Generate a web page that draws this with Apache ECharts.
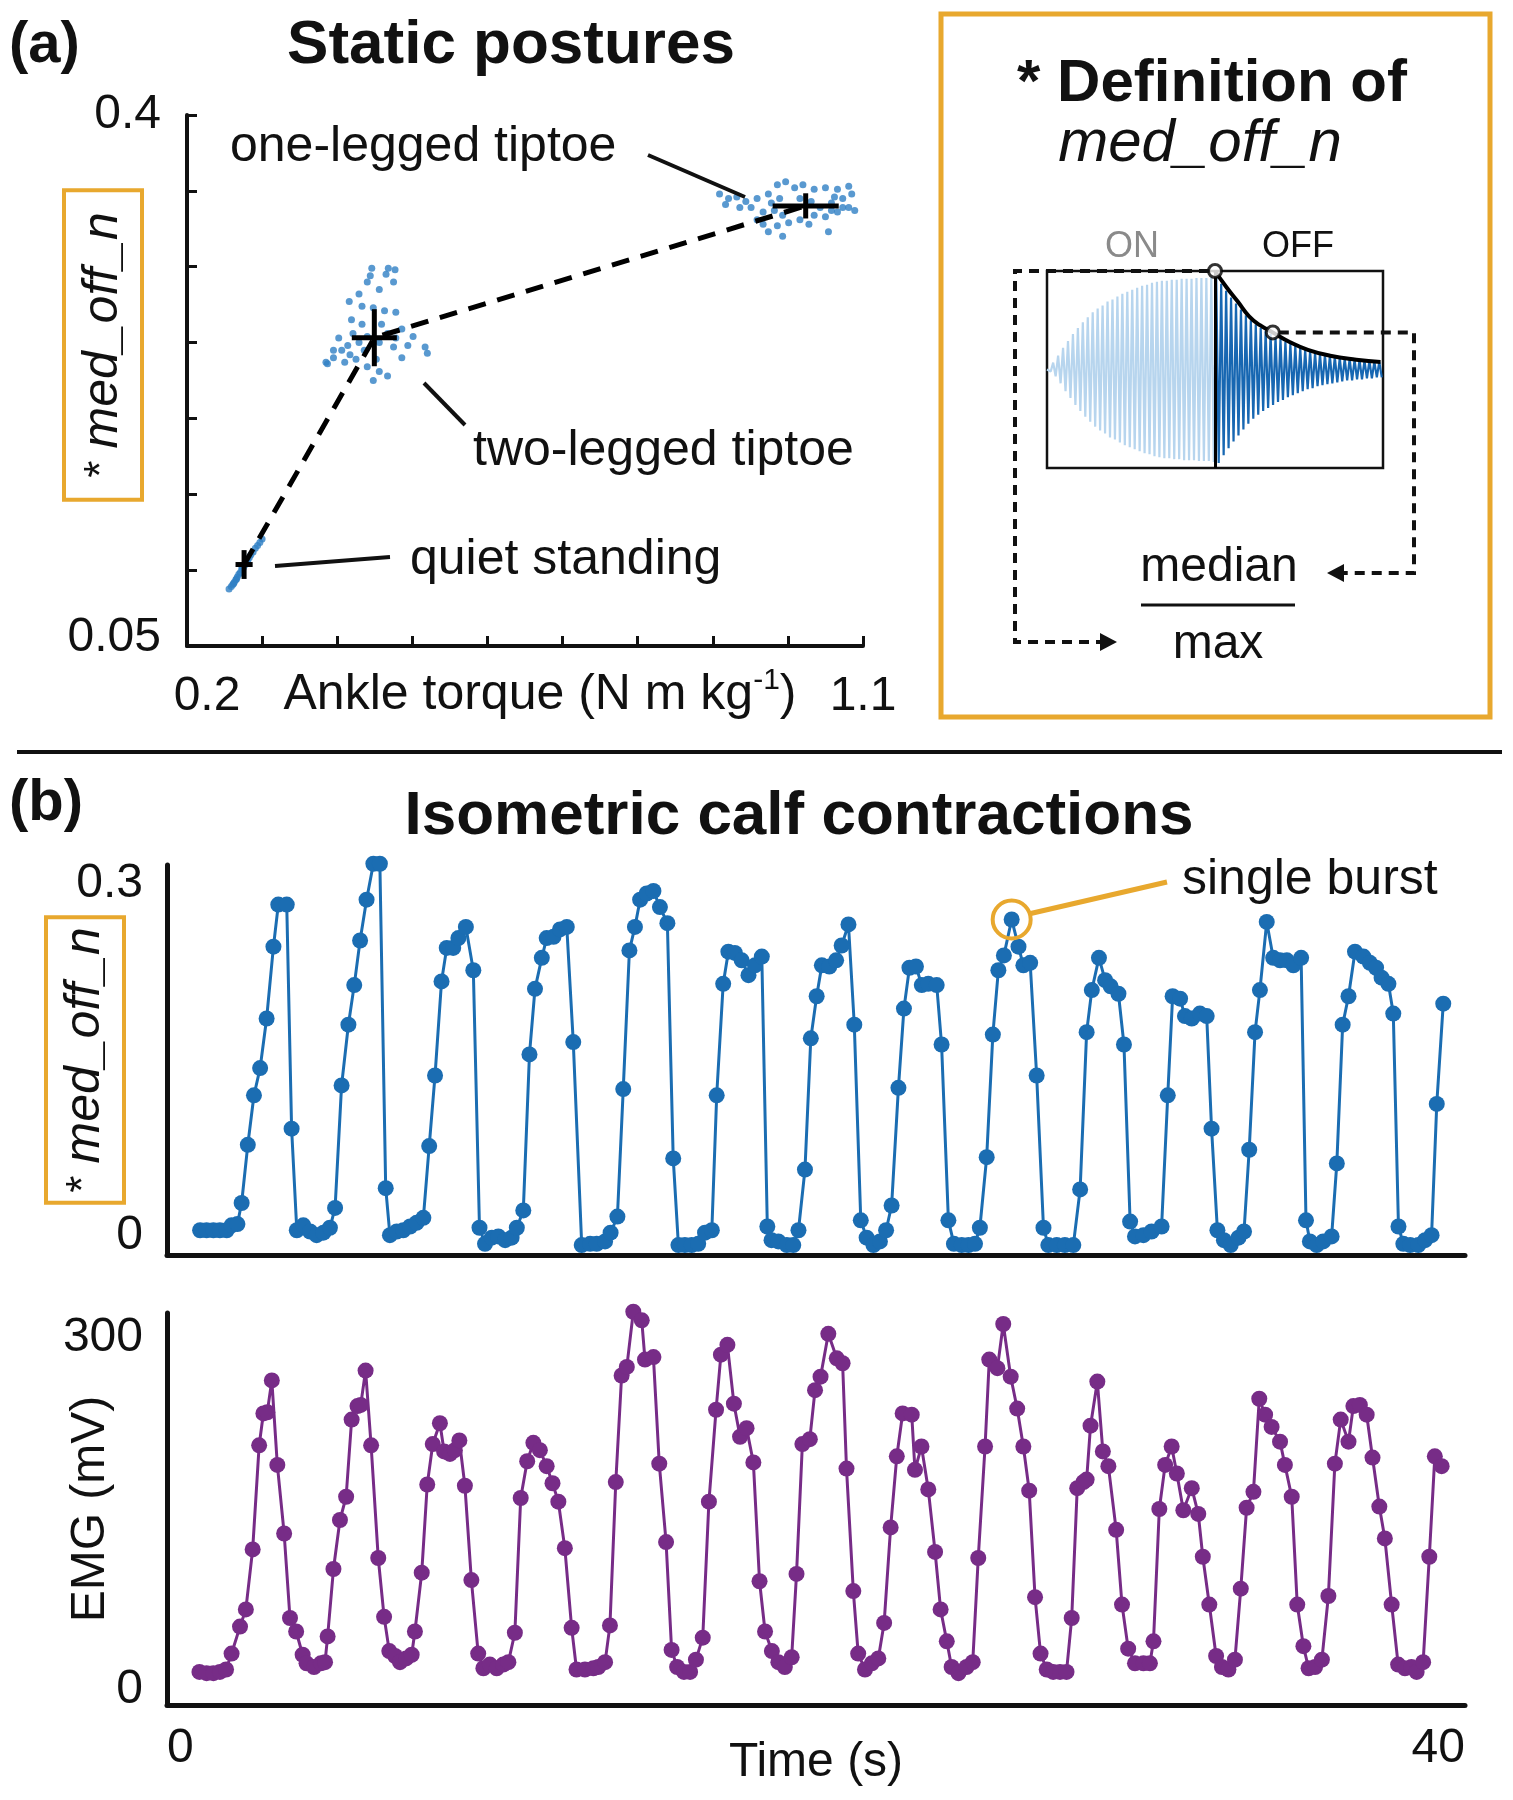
<!DOCTYPE html>
<html><head><meta charset="utf-8">
<script src="https://cdn.jsdelivr.net/npm/echarts@6/dist/echarts.min.js"></script>
<style>html,body{margin:0;padding:0;background:#fff}#c{width:1513px;height:1800px}</style>
</head><body><div id="c"></div>
<script>
// ---------- Panel (a): static postures ----------
const quietPts = [[0.256,0.0875],[0.259,0.0893],[0.261,0.0905],[0.263,0.0921],[0.265,0.0936],[0.267,0.0955],[0.269,0.0973],[0.271,0.0985],[0.273,0.1004],[0.275,0.1016],[0.277,0.1034],[0.279,0.1047],[0.281,0.1065],[0.283,0.1084],[0.285,0.1102],[0.288,0.1120],[0.291,0.1145],[0.294,0.1163],[0.297,0.1182],[0.300,0.1206],[0.273,0.1022],[0.280,0.1053],[0.266,0.0942],[0.262,0.0912]];
const twoLegPts = [[0.446,0.299],[0.468,0.299],[0.477,0.298],[0.465,0.295],[0.475,0.290],[0.444,0.294],[0.440,0.290],[0.429,0.282],[0.456,0.285],[0.416,0.277],[0.433,0.274],[0.448,0.273],[0.463,0.271],[0.478,0.270],[0.419,0.265],[0.433,0.262],[0.459,0.262],[0.486,0.259],[0.501,0.254],[0.517,0.247],[0.520,0.243],[0.414,0.248],[0.406,0.245],[0.395,0.240],[0.387,0.236],[0.410,0.237],[0.425,0.239],[0.440,0.234],[0.456,0.231],[0.467,0.228],[0.448,0.225],[0.402,0.253],[0.421,0.256],[0.475,0.247],[0.486,0.240],[0.452,0.239],[0.436,0.245],[0.417,0.242],[0.395,0.245],[0.385,0.237],[0.478,0.253],[0.494,0.248],[0.429,0.250],[0.456,0.250],[0.440,0.254],[0.467,0.256]];
const oneLegPts = [[0.909,0.348],[0.921,0.345],[0.932,0.346],[0.917,0.341],[0.944,0.343],[0.959,0.345],[0.974,0.348],[0.986,0.354],[0.997,0.356],[1.009,0.352],[1.020,0.354],[1.035,0.351],[1.050,0.352],[1.066,0.351],[1.081,0.353],[1.085,0.348],[1.073,0.345],[1.058,0.342],[1.043,0.339],[1.081,0.339],[1.089,0.337],[1.066,0.336],[1.050,0.333],[1.035,0.334],[1.016,0.331],[1.001,0.329],[0.986,0.327],[0.974,0.323],[0.967,0.328],[0.993,0.334],[1.005,0.339],[0.982,0.337],[0.967,0.336],[0.951,0.339],[0.936,0.339],[1.054,0.323],[1.028,0.328],[0.993,0.320],[0.959,0.331],[1.016,0.345],[1.031,0.343],[1.062,0.346],[0.978,0.342],[0.989,0.345],[1.073,0.339],[1.058,0.337]];
const postureNames = ['quiet standing','two-legged tiptoe','one-legged tiptoe'];
const postureMeans = [[0.276,0.1037],[0.4494,0.2532],[1.0237,0.3401]];
const postureErr = [[0.0114,0.0095],[0.030,0.0188],[0.044,0.0083]];
const torqueLabels = [0.2, 1.1];
const medLabels = [0.05, 0.4];

// ---------- Definition sketch ----------
const onAmp = [0.02,0.07,0.14,0.22,0.29,0.36,0.42,0.48,0.53,0.58,0.62,0.65,0.69,0.71,0.74,0.77,0.79,0.81,0.83,0.85,0.86,0.88,0.89,0.90,0.90,0.91,0.91,0.92,0.92,0.92,0.93,0.93,0.93,0.94];
const offAmp = [0.95,0.87,0.80,0.73,0.67,0.61,0.55,0.50,0.46,0.42,0.39,0.36,0.33,0.31,0.28,0.26,0.24,0.22,0.20,0.19,0.17,0.16,0.15,0.14,0.13,0.12,0.11,0.11,0.10,0.10,0.09,0.09,0.08,0.08];
const envX = [34,36.4,38.6,40.9,43.1,45.7,49.1,52.8,57.3,62.6,67.5];
const envY = [1.0,0.83,0.69,0.54,0.45,0.376,0.28,0.20,0.14,0.10,0.076];
const keyPts = [[34,1.0],[45.7,0.376]];

// ---------- Panel (b): isometric calf contractions ----------
const medOffN = [[1.02,0.020],[1.22,0.020],[1.43,0.020],[1.63,0.020],[1.84,0.020],[1.99,0.024],[2.17,0.025],[2.30,0.042],[2.49,0.089],[2.68,0.129],[2.87,0.151],[3.07,0.191],[3.28,0.249],[3.43,0.283],[3.69,0.283],[3.84,0.102],[4.00,0.020],[4.20,0.024],[4.41,0.019],[4.61,0.016],[4.82,0.018],[5.02,0.022],[5.18,0.038],
[5.38,0.137],[5.59,0.186],[5.77,0.218],[5.95,0.254],[6.15,0.287],[6.36,0.316],[6.56,0.316],[6.74,0.054],[6.87,0.016],[7.08,0.019],[7.28,0.020],[7.49,0.023],[7.69,0.026],[7.90,0.030],
[8.08,0.088],[8.26,0.145],[8.46,0.221],[8.62,0.248],[8.82,0.248],[8.98,0.256],[9.21,0.265],[9.44,0.230],[9.63,0.022],[9.80,0.009],[10.01,0.014],[10.21,0.015],[10.42,0.012],[10.62,0.014],[10.78,0.022],[10.98,0.036],
[11.17,0.162],[11.34,0.215],[11.55,0.240],[11.70,0.256],[11.91,0.257],[12.11,0.263],[12.32,0.265],[12.52,0.172],[12.78,0.008],[13.04,0.009],[13.24,0.009],[13.50,0.011],[13.67,0.018],[13.88,0.031],
[14.06,0.134],[14.25,0.246],[14.42,0.265],[14.58,0.287],[14.78,0.292],[14.99,0.294],[15.19,0.281],[15.42,0.268],[15.60,0.078],[15.76,0.008],[15.96,0.008],[16.17,0.008],[16.37,0.009],[16.58,0.018],[16.79,0.020],
[16.94,0.129],[17.14,0.219],[17.30,0.245],[17.50,0.244],[17.71,0.238],[17.92,0.226],[18.12,0.234],[18.33,0.241],[18.50,0.023],[18.63,0.012],[18.84,0.011],[19.10,0.008],[19.30,0.008],[19.46,0.020],
[19.66,0.069],[19.84,0.175],[20.02,0.209],[20.18,0.234],[20.41,0.233],[20.62,0.238],[20.79,0.250],[21.00,0.267],[21.18,0.186],[21.38,0.028],[21.56,0.014],[21.77,0.008],[21.97,0.011],[22.16,0.020],[22.33,0.040],
[22.54,0.135],[22.71,0.199],[22.88,0.232],[23.08,0.233],[23.26,0.218],[23.46,0.219],[23.72,0.218],[23.87,0.170],[24.08,0.028],[24.25,0.009],[24.49,0.008],[24.70,0.008],[24.90,0.009],[25.05,0.022],
[25.26,0.079],[25.45,0.178],[25.62,0.230],[25.79,0.242],[26.03,0.271],[26.24,0.249],[26.39,0.234],[26.60,0.236],[26.80,0.145],[27.01,0.022],[27.16,0.008],[27.42,0.008],[27.67,0.008],[27.93,0.008],[28.14,0.053],
[28.34,0.180],[28.50,0.214],[28.72,0.240],[28.91,0.222],[29.08,0.217],[29.32,0.211],[29.49,0.170],[29.68,0.027],[29.83,0.015],[30.09,0.016],[30.34,0.019],[30.65,0.023],
[30.84,0.129],[30.99,0.209],[31.22,0.207],[31.37,0.193],[31.58,0.191],[31.83,0.195],[32.04,0.193],[32.19,0.102],[32.37,0.020],[32.57,0.012],[32.78,0.008],[33.02,0.014],[33.19,0.019],
[33.35,0.085],[33.53,0.180],[33.68,0.214],[33.89,0.269],[34.09,0.240],[34.30,0.238],[34.51,0.238],[34.71,0.234],[34.95,0.240],[35.10,0.028],[35.22,0.011],[35.43,0.008],[35.63,0.011],[35.89,0.015],
[36.05,0.074],[36.23,0.186],[36.41,0.209],[36.61,0.245],[36.87,0.241],[37.07,0.236],[37.26,0.232],[37.43,0.224],[37.64,0.219],[37.79,0.195],[37.95,0.023],[38.10,0.009],[38.31,0.008],[38.56,0.008],[38.77,0.012],[38.97,0.016],
[39.13,0.122],[39.33,0.203]];
const singleBurst = [26.03, 0.271];
const emgMv = [[1.00,27],[1.22,26],[1.43,26],[1.63,27],[1.82,29],[1.99,42],[2.25,64],[2.43,78],[2.64,127],[2.84,212],[2.97,238],[3.09,239],[3.23,265],[3.40,196],[3.61,140],[3.79,71],[3.98,60],[4.18,41],[4.30,34],[4.53,31],[4.74,34],[4.87,35],
[4.95,56],[5.13,111],[5.33,151],[5.52,170],[5.69,233],[5.87,244],[5.97,245],[6.12,273],[6.29,212],[6.51,120],[6.69,72],[6.85,44],[7.03,40],[7.18,35],[7.37,38],[7.54,41],[7.64,60],
[7.85,108],[8.02,180],[8.19,213],[8.41,230],[8.54,207],[8.72,205],[8.87,208],[9.01,216],[9.18,179],[9.38,102],[9.59,42],[9.75,30],[9.95,33],[10.16,30],[10.36,33],[10.52,35],[10.72,59],
[10.90,169],[11.10,199],[11.29,214],[11.49,208],[11.70,195],[11.88,181],[12.06,166],[12.26,128],[12.47,63],[12.62,29],[12.88,29],[13.14,30],[13.29,31],[13.50,35],[13.65,65],
[13.83,182],[14.01,269],[14.17,276],[14.37,321],[14.63,314],[14.73,282],[14.99,284],[15.17,197],[15.38,133],[15.55,45],[15.72,31],[15.93,27],[16.12,27],[16.30,37],[16.51,55],
[16.70,166],[16.92,241],[17.07,286],[17.27,294],[17.47,246],[17.66,219],[17.86,226],[18.07,198],[18.26,101],[18.43,60],[18.64,44],[18.84,35],[19.04,31],[19.25,39],
[19.40,107],[19.58,213],[19.81,217],[19.97,257],[20.14,268],[20.38,303],[20.64,283],[20.82,279],[20.94,193],[21.15,93],[21.30,42],[21.51,29],[21.72,34],[21.92,38],[22.10,67],
[22.30,145],[22.49,203],[22.67,238],[22.95,237],[23.05,192],[23.25,211],[23.46,176],[23.67,125],[23.84,78],[24.03,52],[24.18,31],[24.39,26],[24.64,31],[24.83,35],
[25.00,120],[25.21,211],[25.34,282],[25.59,275],[25.77,311],[26.00,268],[26.20,242],[26.39,211],[26.57,175],[26.75,88],[26.92,42],[27.11,29],[27.31,27],[27.52,27],[27.72,27],[27.88,71],
[28.05,177],[28.24,182],[28.34,184],[28.46,228],[28.67,264],[28.84,207],[29.01,195],[29.25,143],[29.43,82],[29.62,46],[29.83,34],[30.09,34],[30.29,34],[30.40,52],
[30.58,160],[30.76,196],[30.96,211],[31.12,189],[31.32,159],[31.58,177],[31.78,156],[31.92,121],[32.12,82],[32.33,40],[32.51,31],[32.71,29],[32.91,37],[33.09,95],
[33.27,161],[33.48,174],[33.66,250],[33.84,237],[34.04,227],[34.30,215],[34.45,196],[34.66,170],[34.83,82],[35.02,48],[35.18,30],[35.38,31],[35.59,37],[35.79,89],
[35.99,197],[36.17,233],[36.41,215],[36.56,244],[36.76,245],[36.97,237],[37.15,202],[37.36,162],[37.53,136],[37.74,82],[37.94,33],[38.15,30],[38.35,31],[38.51,27],[38.71,35],
[38.90,121],[39.07,203],[39.28,195]];
const timeLabels = [0, 40];
const medOffLabels = [0, 0.3];
const emgLabels = [0, 300];

// ---------- build ----------
const FONT = "'Liberation Sans', Arial, Helvetica, sans-serif";
const ORANGE = '#E8A82E';
const BLUE = '#1B6DB2';
const PURPLE = '#772C87';
const medRich = {s:{fontSize:44, fontFamily:FONT, color:'#111', fill:'#111'}, i:{fontSize:50, fontFamily:FONT, fontStyle:'italic', color:'#111', fill:'#111'}};

const onWave = [[0,0]];
onAmp.forEach((a,i)=>{ onWave.push([i+0.25, a]); onWave.push([i+0.75, -a]); });
onWave.push([onAmp.length, 0]);
const offWave = [[onAmp.length, 0]];
offAmp.forEach((a,i)=>{ const x0 = onAmp.length + i; offWave.push([x0+0.25, a]); offWave.push([x0+0.75, -a]); });
const envelope = envX.map((x,i)=>[x, envY[i]]);
const errData = postureMeans.map((m,i)=>[m[0], m[1], postureErr[i][0], postureErr[i][1]]);

const chart = echarts.init(document.getElementById('c'), null, {renderer:'canvas'});
const axLine = (w)=>({show:true, onZero:false, lineStyle:{color:'#111', width:w}});
const lbl = (extra)=>Object.assign({fontSize:48, fontFamily:FONT, color:'#111'}, extra||{});
const gridBase = {containLabel:false, outerBoundsMode:'none'};

const option = {
  animation:false,
  backgroundColor:'#fff',
  grid:[
    Object.assign({left:187, top:115, width:676, height:531}, gridBase),
    Object.assign({left:1047, top:271, width:336, height:197, show:true, borderColor:'#111', borderWidth:2.5, backgroundColor:'transparent'}, gridBase),
    Object.assign({left:167, top:865, width:1298, height:390}, gridBase),
    Object.assign({left:167, top:1313, width:1298, height:392}, gridBase)
  ],
  xAxis:[
    {gridIndex:0, type:'value', min:0.2, max:1.1, interval:0.1, nameMoveOverlap:false,
     axisLine:axLine(4), axisTick:{show:true, inside:true, length:10, lineStyle:{width:3, color:'#111'}}, splitLine:{show:false},
     axisLabel:lbl({customValues:torqueLabels, margin:27,
       formatter:v=>Math.abs(v-0.2)<1e-9 ? '{p|0.2}' : '1.1',
       rich:{p:{fontSize:48, fontFamily:FONT, color:'#111', padding:[0,0,0,40]}}}),
     name:'{a|Ankle torque (N m kg}{s|-1}{a|)}', nameLocation:'middle', nameGap:20,
     nameTextStyle:{padding:[0,0,0,30], rich:{a:{fontSize:50, fontFamily:FONT, color:'#111', lineHeight:58}, s:{fontSize:30, fontFamily:FONT, color:'#111', verticalAlign:'top', lineHeight:58}}}},
    {gridIndex:1, type:'value', min:0, max:68, show:false},
    {gridIndex:2, type:'value', min:0, max:40, axisLine:axLine(5), axisTick:{show:false}, axisLabel:{show:false}, splitLine:{show:false}},
    {gridIndex:3, type:'value', min:0, max:40, axisLine:axLine(5), axisTick:{show:false}, splitLine:{show:false}, nameMoveOverlap:false,
     axisLabel:lbl({customValues:timeLabels, margin:20, alignMinLabel:'left', alignMaxLabel:'right'}),
     name:'Time (s)', nameLocation:'middle', nameGap:34, nameTextStyle:{fontSize:48, fontFamily:FONT, color:'#111'}}
  ],
  yAxis:[
    {gridIndex:0, type:'value', min:0.05, max:0.4, interval:0.05, nameMoveOverlap:false,
     axisLine:axLine(4), axisTick:{show:true, inside:true, length:10, lineStyle:{width:3, color:'#111'}}, splitLine:{show:false},
     axisLabel:lbl({customValues:medLabels, margin:26,
       formatter:v=>Math.abs(v-0.05)<1e-9 ? '{q|0.05}' : '0.4',
       rich:{q:{fontSize:48, fontFamily:FONT, color:'#111', padding:[0,0,16,0]}}})},
    {gridIndex:1, type:'value', min:-1, max:1, show:false},
    {gridIndex:2, type:'value', min:0, max:0.315, axisLine:axLine(5), axisTick:{show:false}, splitLine:{show:false}, nameMoveOverlap:false,
     axisLabel:lbl({customValues:medOffLabels, margin:24,
       formatter:v=>v===0 ? '{z|0}' : '0.3',
       rich:{z:{fontSize:48, fontFamily:FONT, color:'#111', padding:[0,0,38,0]}}}),
     name:'{s|* }{i|med_off_n}', nameLocation:'middle', nameRotate:90, nameGap:43,
     nameTextStyle:{borderColor:ORANGE, borderWidth:4, padding:[14,10,14,10], rich:medRich}},
    {gridIndex:3, type:'value', min:0, max:320, axisLine:axLine(5), axisTick:{show:false}, splitLine:{show:false}, nameMoveOverlap:false,
     axisLabel:lbl({customValues:emgLabels, margin:24,
       formatter:v=>v===0 ? '{z|0}' : String(v),
       rich:{z:{fontSize:48, fontFamily:FONT, color:'#111', padding:[0,0,30,0]}}}),
     name:'EMG (mV)', nameLocation:'middle', nameRotate:90, nameGap:52, nameTextStyle:{fontSize:48, fontFamily:FONT, color:'#111'}}
  ],
  series:[
    {name:postureNames[0], type:'scatter', xAxisIndex:0, yAxisIndex:0, data:quietPts, symbolSize:7, itemStyle:{color:'#2F80C4'}, z:2},
    {name:postureNames[1], type:'scatter', xAxisIndex:0, yAxisIndex:0, data:twoLegPts, symbolSize:7, itemStyle:{color:'#2F80C4'}, z:2},
    {name:postureNames[2], type:'scatter', xAxisIndex:0, yAxisIndex:0, data:oneLegPts, symbolSize:7, itemStyle:{color:'#2F80C4'}, z:2},
    {type:'line', xAxisIndex:0, yAxisIndex:0, data:postureMeans, symbol:'none', lineStyle:{color:'#000', width:5, type:[18,12]}, z:3},
    {type:'custom', xAxisIndex:0, yAxisIndex:0, data:errData, z:4, clip:false,
     renderItem:function(params, api){
       const x=api.value(0), y=api.value(1), ex=api.value(2), ey=api.value(3);
       const l=api.coord([x-ex,y]), r=api.coord([x+ex,y]), b=api.coord([x,y-ey]), t=api.coord([x,y+ey]);
       const st={stroke:'#000', lineWidth:5};
       return {type:'group', children:[
         {type:'line', shape:{x1:l[0],y1:l[1],x2:r[0],y2:r[1]}, style:st},
         {type:'line', shape:{x1:b[0],y1:b[1],x2:t[0],y2:t[1]}, style:st}]};
     }},
    {type:'line', xAxisIndex:1, yAxisIndex:1, data:onWave, symbol:'none', lineStyle:{color:'#B7D5EE', width:2.2}, z:2,
     markLine:{silent:true, symbol:['none','none'], label:{show:false}, lineStyle:{color:'#000', width:3, type:'solid'}, data:[{xAxis:onAmp.length}]}},
    {type:'line', xAxisIndex:1, yAxisIndex:1, data:offWave, symbol:'none', lineStyle:{color:'#1767B2', width:2.2}, z:2},
    {type:'line', xAxisIndex:1, yAxisIndex:1, data:envelope, smooth:0.5, symbol:'none', lineStyle:{color:'#000', width:4}, z:5, clip:false},
    {type:'scatter', xAxisIndex:1, yAxisIndex:1, data:keyPts, symbol:'circle', symbolSize:13, itemStyle:{color:'#fff', borderColor:'#000', borderWidth:3}, z:10, clip:false},
    {type:'line', xAxisIndex:2, yAxisIndex:2, data:medOffN, symbol:'circle', symbolSize:16, showAllSymbol:true, clip:false,
     lineStyle:{color:BLUE, width:3}, itemStyle:{color:BLUE},
     markPoint:{silent:true, symbol:'circle', symbolSize:38, label:{show:false},
       itemStyle:{color:'rgba(0,0,0,0)', borderColor:ORANGE, borderWidth:4},
       data:[{coord:singleBurst}]}},
    {type:'line', xAxisIndex:3, yAxisIndex:3, data:emgMv, symbol:'circle', symbolSize:16, showAllSymbol:true, clip:false,
     lineStyle:{color:PURPLE, width:3}, itemStyle:{color:PURPLE}}
  ]
};
chart.setOption(option);

function T(x, y, text, size, o){
  o = o || {};
  const a = o.a || 'left';
  return {type:'text', x:x, y:y, z:100, silent:true,
    style:{text:text, fontSize:size, fontFamily:FONT, fontWeight:o.w||'normal', fontStyle:o.s||'normal', fill:o.c||'#111',
      align:a, textAlign:a, verticalAlign:'middle', textVerticalAlign:'middle', rich:o.rich}};
}
function L(x1,y1,x2,y2,o){
  o = o || {};
  return {type:'line', z:100, silent:true, shape:{x1:x1,y1:y1,x2:x2,y2:y2}, style:{stroke:o.c||'#111', lineWidth:o.w||4, lineDash:o.dash||null}};
}
function P(points, o){
  o = o || {};
  return {type:'polyline', z:100, silent:true, shape:{points:points}, style:{stroke:o.c||'#111', lineWidth:o.w||4, lineDash:o.dash||null, fill:null}};
}
function tri(points){ return {type:'polygon', z:100, silent:true, shape:{points:points}, style:{fill:'#111'}}; }

const pMax = chart.convertToPixel({seriesIndex:8}, keyPts[0]);
const pMed = chart.convertToPixel({seriesIndex:8}, keyPts[1]);
const pBurst = chart.convertToPixel({seriesIndex:9}, singleBurst);
const DASH = [10,7];

const yNameA = {type:'text', x:103, y:345, rotation:Math.PI/2, z:100, silent:true,
  style:{text:'{s|* }{i|med_off_n}', rich:medRich, fontSize:50, fontFamily:FONT, fill:'#111',
    align:'center', textAlign:'center', verticalAlign:'middle', textVerticalAlign:'middle',
    borderColor:ORANGE, borderWidth:4, padding:[14,22,14,22]}};

const g = [
  T(9, 46, '(a)', 58, {w:'bold'}),
  T(511, 46, 'Static postures', 62, {w:'bold', a:'center'}),
  yNameA,
  T(230, 147, 'one-legged tiptoe', 50),
  L(648,155,745,197),
  T(473, 451, 'two-legged tiptoe', 50),
  L(424,383,465,425),
  T(410, 560, 'quiet standing', 50),
  L(275,566,390,557),
  {type:'rect', z:100, silent:true, shape:{x:941, y:14, width:549, height:703}, style:{fill:'transparent', stroke:ORANGE, lineWidth:5}},
  T(1212, 84, '* Definition of', 60, {w:'bold', a:'center'}),
  T(1200, 144, 'med_off_n', 60, {s:'italic', a:'center'}),
  T(1132, 247, 'ON', 36, {a:'center', c:'#8a8a8a'}),
  T(1298, 247, 'OFF', 36, {a:'center'}),
  P([[pMax[0]-6, pMax[1]], [1015, pMax[1]], [1015, 642], [1102, 642]], {dash:DASH}),
  tri([[1100,633],[1117,642],[1100,651]]),
  P([[pMed[0]+6, pMed[1]], [1414, pMed[1]], [1414, 573], [1342, 573]], {dash:DASH}),
  tri([[1344,564],[1327,573],[1344,582]]),
  T(1219, 568, 'median', 48, {a:'center'}),
  L(1141,605,1295,605,{w:3}),
  T(1218, 645, 'max', 48, {a:'center'}),
  L(17,752,1502,752,{w:4}),
  T(9, 804, '(b)', 58, {w:'bold'}),
  T(799, 817, 'Isometric calf contractions', 62, {w:'bold', a:'center'}),
  L(pBurst[0]+19, pBurst[1]-6, 1167, 882, {c:ORANGE, w:5}),
  T(1182, 880, 'single burst', 50)
];
chart.setOption({graphic:g});
</script>
</body></html>
